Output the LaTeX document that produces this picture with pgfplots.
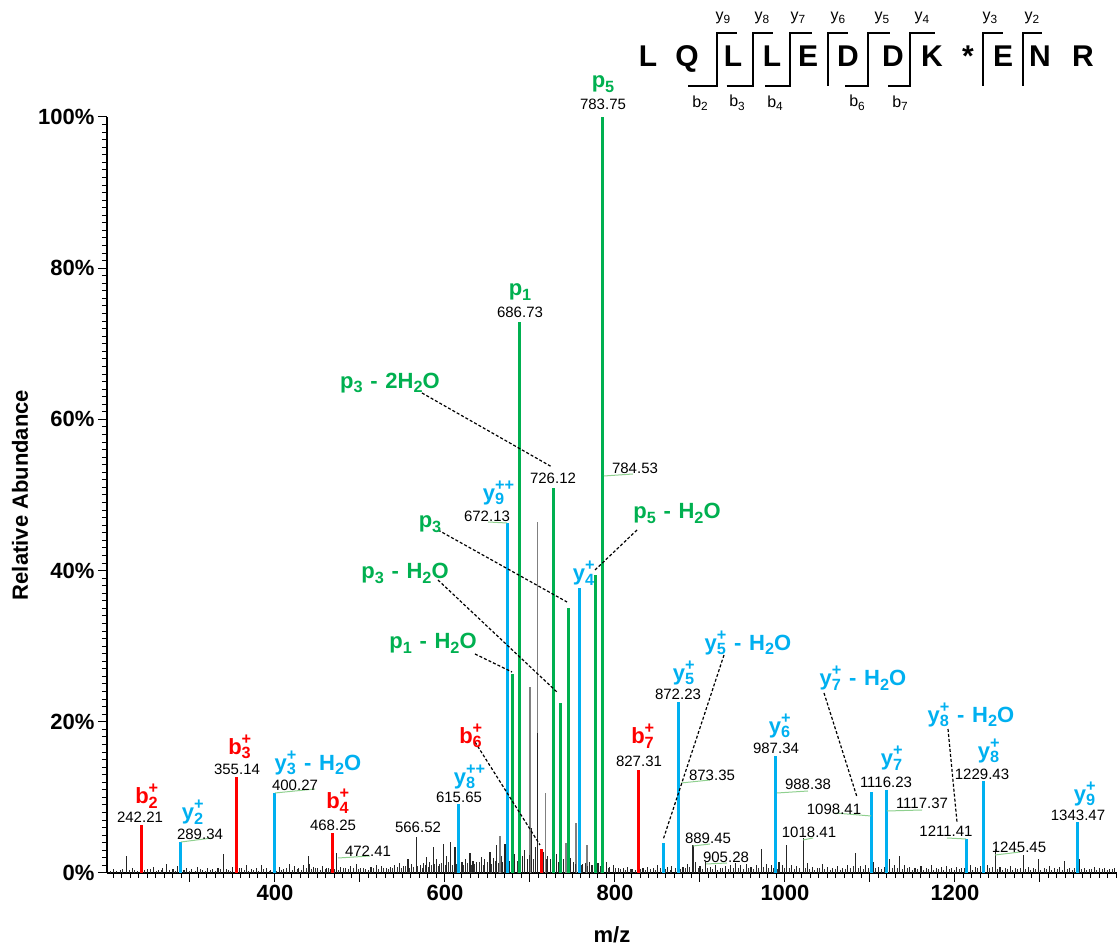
\documentclass[border=0pt]{standalone}
\usepackage{fontspec}
\setmainfont{Liberation Sans}
\usepackage{graphicx}
\usepackage{pgfplots}
\pgfplotsset{compat=1.18}
\definecolor{pgreen}{HTML}{00B050}
\definecolor{pblue}{HTML}{00B0F0}
\definecolor{pred}{HTML}{FF0000}
\definecolor{lgreen}{HTML}{8FD08F}
\newcommand{\fion}{\bfseries\fontsize{22}{25}\selectfont}
\newcommand{\fnum}{\fontsize{15}{17}\selectfont}
\newcommand{\sub}[1]{\raisebox{-0.22em}{\scalebox{0.74}{#1}}}
\newcommand{\dash}{\hspace{0.35em}-\hspace{0.35em}}
\newcommand{\ionss}[2]{\begingroup\sbox0{\scalebox{0.74}{#1}}\sbox2{\scalebox{0.74}{#2}}\rlap{\raisebox{-0.22em}{\usebox0}}\rlap{\raisebox{0.44em}{\usebox2}}\ifdim\wd0>\wd2 \hspace{\wd0}\else\hspace{\wd2}\fi\endgroup}
\begin{document}
\begin{tikzpicture}
\begin{axis}[
  scale only axis, width=1010pt, height=756pt,
  xmin=202.4, xmax=1390.6, ymin=0, ymax=100,
  axis x line*=bottom, axis y line*=left,
  axis line style={line width=1.2pt, -},
  clip=false,
  xtick={200,300,...,1400},
  xticklabels={,,400,,600,,800,,1000,,1200,,},
  minor x tick num=9,
  ytick={0,20,...,100},
  yticklabels={0\%,20\%,40\%,60\%,80\%,100\%},
  minor y tick num=19,
  tick align=outside,
  major tick length=9pt, minor tick length=5pt,
  tick style={line width=1pt, black},
  tick label style={font=\bfseries\fontsize{22}{26}\selectfont},
  ylabel={Relative Abundance}, xlabel={m/z},
  label style={font=\bfseries\fontsize{22}{26}\selectfont},
  ylabel style={at={(axis description cs:-0.0861,0.5)}, anchor=center},
  xlabel style={at={(axis description cs:0.5,-0.082)}, anchor=center},
]
% gray peaks
\addplot[ycomb, color=black!50, line width=1.6pt] coordinates {
(664.7,4.9)(700,24.6)(709,46.4)(718.5,10.6)(742.4,4.0)(754.1,6.6)(767,3.7)};
% fine background noise
\addplot[ycomb, color=black!80, line width=0.9pt] coordinates {
(207,0.3)(221,0.5)(235,0.4)(243,0.3)(254,0.5)(260,0.3)(266,0.4)(283,0.3)(290,0.4)(299,0.3)(312,0.5)(318,0.3)(324,0.4)(330,0.3)(336,0.5)(348,0.3)(353,0.4)(364,0.4)(369,0.3)(375,0.4)(381,0.3)(387,0.5)(393,0.3)(398,0.4)(402,0.3)(408,0.4)(413,0.6)(420,0.4)(426,0.5)(431,0.4)(437,0.6)(443,0.5)(448,0.7)(453,0.4)(459,0.5)(463,0.6)(470,0.5)(475,0.4)(480,0.6)(486,0.5)(492,0.6)(498,0.5)(504,0.6)(510,0.4)(516,0.6)(522,0.5)(528,0.7)(533,0.5)(538,0.6)(544,0.8)(549,0.6)(553,0.9)(558,0.7)(563,0.8)(568,0.9)(573,0.7)(577,1.1)(580,0.8)(584,1.0)(588,1.2)(592,0.9)(596,1.3)(600,1.0)(604,1.4)(609,1.1)(614,1.2)(617,0.9)(622,1.1)(627,1.3)(631,1.0)(635,1.2)(640,1.5)(645,1.1)(650,1.4)(655,1.2)(659,1.6)(663,1.3)(666,2.2)(673,1.4)(679,1.8)(685,1.6)(688,2.0)(699,2.4)(704,1.8)(714,1.6)(719,1.9)(727,1.4)(729,2.2)(737,1.7)(744,1.3)(746,1.9)(753,1.2)(760,1.1)(765,1.3)(768,0.9)(776,1.0)(783,0.9)(787,1.1)(792,0.7)(801,0.6)(807,0.5)(812,0.4)(818,0.5)(824,0.4)(830,0.5)(836,0.4)(842,0.5)(848,0.4)(853,0.6)(859,0.5)(865,0.4)(871,0.6)(877,0.5)(883,0.6)(888,0.8)(898,0.6)(903,0.5)(909,0.6)(915,0.5)(921,0.4)(927,0.6)(933,0.5)(939,0.7)(945,0.6)(951,0.5)(957,0.7)(963,0.5)(969,0.6)(975,0.8)(981,0.6)(987,0.7)(991,0.5)(999,0.6)(1005,0.7)(1011,0.5)(1017,0.6)(1024,0.7)(1029,0.5)(1035,0.4)(1041,0.6)(1047,0.5)(1053,0.4)(1059,0.5)(1065,0.4)(1071,0.5)(1077,0.6)(1080,0.9)(1086,0.6)(1092,0.5)(1098,0.7)(1107,0.6)(1113,0.5)(1117,0.8)(1126,0.6)(1132,0.7)(1138,0.5)(1144,0.6)(1150,0.4)(1156,0.5)(1163,0.4)(1169,0.5)(1175,0.4)(1181,0.5)(1187,0.4)(1193,0.5)(1199,0.4)(1205,0.5)(1211,0.6)(1215,0.5)(1221,0.4)(1227,0.6)(1230,0.9)(1235,0.5)(1241,0.6)(1244,0.8)(1250,0.5)(1256,0.4)(1262,0.5)(1268,0.4)(1274,0.5)(1277,0.6)(1283,0.5)(1289,0.4)(1295,0.5)(1301,0.4)(1308,0.5)(1314,0.4)(1320,0.5)(1326,0.4)(1332,0.5)(1338,0.4)(1341,0.6)(1349,0.5)(1355,0.4)(1361,0.5)(1367,0.4)(1373,0.5)(1379,0.4)(1385,0.5)};
% black noise
\addplot[ycomb, color=black!85, line width=1.1pt] coordinates {
(210,0.5)(214,0.3)(218,0.4)(225.5,2.2)(229,0.4)(232,0.6)(238,0.3)(247,0.4)(250,0.5)(257,0.8)(263,0.4)(268,0.6)(272.6,1.2)(276,0.4)(280,0.5)(285,0.9)(293,0.4)(296,0.6)(302,0.5)(306,0.3)(309,0.8)(315,0.4)(321,0.7)(327,0.5)(333,0.6)(339,2.5)(343,0.5)(345,0.4)(350,0.8)(358,0.6)(361,0.6)(366.7,1.0)(372,0.5)(378,0.7)(384,1.1)(390,0.6)(395,0.4)(405,0.8)(410,0.5)(417.6,1.2)(423,0.9)(428,0.6)(434,1.0)(439.2,2.2)(441,1.2)(445,0.8)(450,0.6)(456,0.9)(461,0.7)(465,0.5)(472.6,2.6)(477,0.8)(483,0.6)(489,0.9)(496,1.2)(501,0.7)(507,0.5)(513,0.8)(519.6,1.0)(525,0.9)(531,0.6)(536,0.8)(541,1.0)(547,1.3)(551,0.9)(556.5,1.9)(561,1.2)(566.7,4.7)(571,1.0)(575,1.3)(578.5,2.1)(582,1.5)(586,3.4)(590,1.8)(594,1.2)(598,3.9)(602,2.2)(606.7,4.1)(611.8,3.4)(620,1.5)(624,1.8)(629.4,2.6)(633,1.6)(637,1.4)(643,2.1)(647,1.8)(653,2.8)(657,2.0)(660.8,3.7)(668,1.5)(670.6,3.9)(676,1.6)(682,2.5)(691,2.2)(694,3.0)(697,1.8)(702,5.9)(706,3.5)(709,18.5)(712,2.0)(716,2.8)(721,2.2)(724,1.8)(731,2.5)(734,1.5)(739,1.8)(748,2.0)(751,1.5)(757,1.8)(762,1.2)(770,1.5)(773,1.0)(780,1.3)(790,1.4)(794,0.8)(798,1.0)(804,0.7)(810,0.6)(815,0.8)(820,0.5)(833,0.6)(838,0.8)(845,0.6)(850,1.0)(862,0.8)(867,0.9)(880,0.8)(885,1.2)(891.8,3.7)(895,1.5)(900,0.9)(906.7,1.5)(912,0.8)(918,1.0)(924,0.7)(930,0.9)(936,1.0)(942,1.3)(948,1.1)(955,1.2)(960,0.8)(966,1.0)(972,3.2)(978,1.2)(984,1.0)(993,1.4)(997,1.0)(1002,3.7)(1008,1.1)(1014,0.9)(1021.5,4.6)(1026,1.3)(1032,0.8)(1038,0.7)(1044,1.2)(1050,0.8)(1056,0.6)(1062,0.9)(1068,0.7)(1074,1.0)(1083,2.6)(1089,0.9)(1095,1.0)(1104,1.5)(1110,0.8)(1123,1.8)(1129,1.0)(1135,2.3)(1141,1.0)(1147,0.8)(1153,0.6)(1160,0.9)(1166,0.7)(1172,1.0)(1178,0.6)(1184,0.8)(1190,0.9)(1196,0.7)(1202,0.8)(1208,0.6)(1218,1.0)(1224,0.8)(1238,1.0)(1247.5,3.2)(1253,0.8)(1259,0.6)(1265,0.9)(1271,0.7)(1280.6,2.4)(1286,0.8)(1292,0.6)(1298.7,1.8)(1305,0.7)(1311,0.9)(1317,0.6)(1323,0.8)(1328.9,1.6)(1335,0.7)(1347,1.8)(1352,0.7)(1358,0.5)(1364,0.8)(1370,0.6)(1376,0.7)(1382,0.5)(1388,0.6)};
% b ions (red)
\addplot[ycomb, color=pred, line width=3pt] coordinates {
(243.5,6.3)(355.0,12.7)(468.2,5.3)(713.0,3.2)(828.0,13.6)};
% y ions (blue)
\addplot[ycomb, color=pblue, line width=3pt] coordinates {
(289.4,4.1)(400.0,10.6)(616.5,9.1)(673.8,46.3)(758.8,37.7)(856.5,4.0)(874.7,22.6)(989.4,15.5)(1101.6,10.7)(1119.4,11.0)(1213.3,4.5)(1233.0,12.2)(1344.7,6.7)};
% precursor-related (green)
\addplot[ycomb, color=pgreen, line width=3pt] coordinates {
(679.2,26.3)(688.2,72.9)(728.2,50.9)(736.1,22.5)(745.1,35.1)(776.5,39.4)(785.5,100)};
\end{axis}
\begin{scope}[shift={(-107pt,873pt)}, x=1pt, y=-1pt]
% green leaders
\begin{scope}[draw=lgreen, line width=1pt]
\draw (181,842) -- (212,838);
\draw (275,793) -- (315,789);
\draw (338,858) -- (370,856);
\draw (488,522) -- (507,523);
\draw (604,476) -- (633,474);
\draw (681,783) -- (710,780);
\draw (693,846) -- (710,844);
\draw (706,864) -- (727,863);
\draw (777,793) -- (808,791);
\draw (803,840) -- (813,838);
\draw (835,813) -- (871,816);
\draw (887,811) -- (922,810);
\draw (947,838) -- (966,839);
\draw (995,855) -- (1020,852);
\end{scope}
% dashed leaders
\begin{scope}[draw=black, line width=1.2pt, dash pattern=on 3pt off 2pt]
\draw (475,742) -- (540,845);
\draw (422,393) -- (552,467);
\draw (438,530) -- (567,602);
\draw (438,580) -- (558,693);
\draw (475,654) -- (512,672);
\draw (637,530) -- (595,570);
\draw (724,655) -- (663,840);
\draw (824,693) -- (857,797);
\draw (948,729) -- (957,822);
\end{scope}
% number labels
\begin{scope}[every node/.style={font=\fnum, inner sep=0pt, anchor=center}]
\node at (140,817) {242.21};
\node at (200,834) {289.34};
\node at (237,769) {355.14};
\node at (295,785) {400.27};
\node at (333,825) {468.25};
\node at (368,851) {472.41};
\node at (418,827) {566.52};
\node at (459,797) {615.65};
\node at (487,516) {672.13};
\node at (520,312) {686.73};
\node at (553,478) {726.12};
\node at (603,104) {783.75};
\node at (635,468) {784.53};
\node at (639,761) {827.31};
\node at (678,694) {872.23};
\node at (712,775) {873.35};
\node at (708,838) {889.45};
\node at (726,857) {905.28};
\node at (776,748) {987.34};
\node at (808,784) {988.38};
\node at (809,832) {1018.41};
\node at (834,809) {1098.41};
\node at (886,782) {1116.23};
\node at (922,803) {1117.37};
\node at (946,831) {1211.41};
\node at (982,774) {1229.43};
\node at (1019,847) {1245.45};
\node at (1078,815) {1343.47};
\end{scope}
% ion labels
\begin{scope}[every node/.style={font=\fion, inner sep=0pt, anchor=center}]
\node[text=pred] at (142,796) {b\ionss{2}{+}};
\node[text=pred] at (235,747) {b\ionss{3}{+}};
\node[text=pred] at (333,801) {b\ionss{4}{+}};
\node[text=pred] at (466,736) {b\ionss{6}{+}};
\node[text=pred] at (638,736) {b\ionss{7}{+}};
\node[text=pblue] at (188,812) {y\ionss{2}{+}};
\node[text=pblue] at (318,763) {y\ionss{3}{+}\dash H\sub{2}O};
\node[text=pblue] at (460,777) {y\ionss{8}{++}};
\node[text=pblue] at (489,493) {y\ionss{9}{++}};
\node[text=pblue] at (579,573) {y\ionss{4}{+}};
\node[text=pblue] at (679,673) {y\ionss{5}{+}};
\node[text=pblue] at (748,643) {y\ionss{5}{+}\dash H\sub{2}O};
\node[text=pblue] at (775,726) {y\ionss{6}{+}};
\node[text=pblue] at (863,678) {y\ionss{7}{+}\dash H\sub{2}O};
\node[text=pblue] at (887,758) {y\ionss{7}{+}};
\node[text=pblue] at (971,715) {y\ionss{8}{+}\dash H\sub{2}O};
\node[text=pblue] at (984,751) {y\ionss{8}{+}};
\node[text=pblue] at (1080,794) {y\ionss{9}{+}};
\node[text=pgreen] at (603,84) {p\sub{5}};
\node[text=pgreen] at (520,292) {p\sub{1}};
\node[text=pgreen] at (390,383) {p\sub{3}\dash 2H\sub{2}O};
\node[text=pgreen] at (430,524) {p\sub{3}};
\node[text=pgreen] at (405,573) {p\sub{3}\dash H\sub{2}O};
\node[text=pgreen] at (433,643) {p\sub{1}\dash H\sub{2}O};
\node[text=pgreen] at (677,513) {p\sub{5}\dash H\sub{2}O};
\end{scope}
% sequence
\begin{scope}[every node/.style={font=\bfseries\fontsize{30}{34}\selectfont, inner sep=0pt, anchor=base}]
\node at (648,66.7) {L};
\node at (687,66.7) {Q};
\node at (733,66.7) {L};
\node at (772,66.7) {L};
\node at (808,66.7) {E};
\node at (848,66.7) {D};
\node at (893,66.7) {D};
\node at (932,66.7) {K};
\node at (968,66.7) {*};
\node at (1003,66.7) {E};
\node at (1040,66.7) {N};
\node at (1083,66.7) {R};
\end{scope}
\begin{scope}[every node/.style={font=\fontsize{16}{18}\selectfont, inner sep=0pt, anchor=center}]
\node at (723,18) {y\sub{9}};
\node at (762,18) {y\sub{8}};
\node at (798,18) {y\sub{7}};
\node at (838,18) {y\sub{6}};
\node at (882,18) {y\sub{5}};
\node at (922,18) {y\sub{4}};
\node at (990,18) {y\sub{3}};
\node at (1032,18) {y\sub{2}};
\node at (700,103) {b\sub{2}};
\node at (737,103) {b\sub{3}};
\node at (775,103) {b\sub{4}};
\node at (857,103) {b\sub{6}};
\node at (900,103) {b\sub{7}};
\end{scope}
\begin{scope}[draw=black, line width=1.7pt]
\draw (688,86) -- (716.7,86) -- (716.7,33) -- (736.7,33);
\draw (726.7,86) -- (753.3,86) -- (753.3,33) -- (773,33);
\draw (765,86) -- (790,86) -- (790,33) -- (811.7,33);
\draw (828,86) -- (828,33) -- (848,33);
\draw (845,86) -- (868.3,86) -- (868.3,33) -- (890,33);
\draw (888,86) -- (910,86) -- (910,33) -- (935,33);
\draw (983.3,86) -- (983.3,33) -- (1003,33);
\draw (1023.3,86) -- (1023.3,33) -- (1041.7,33);
\end{scope}
\end{scope}
\pgfresetboundingbox
\path (-107pt,-74pt) rectangle (1010pt,873pt);
\end{tikzpicture}
\end{document}
